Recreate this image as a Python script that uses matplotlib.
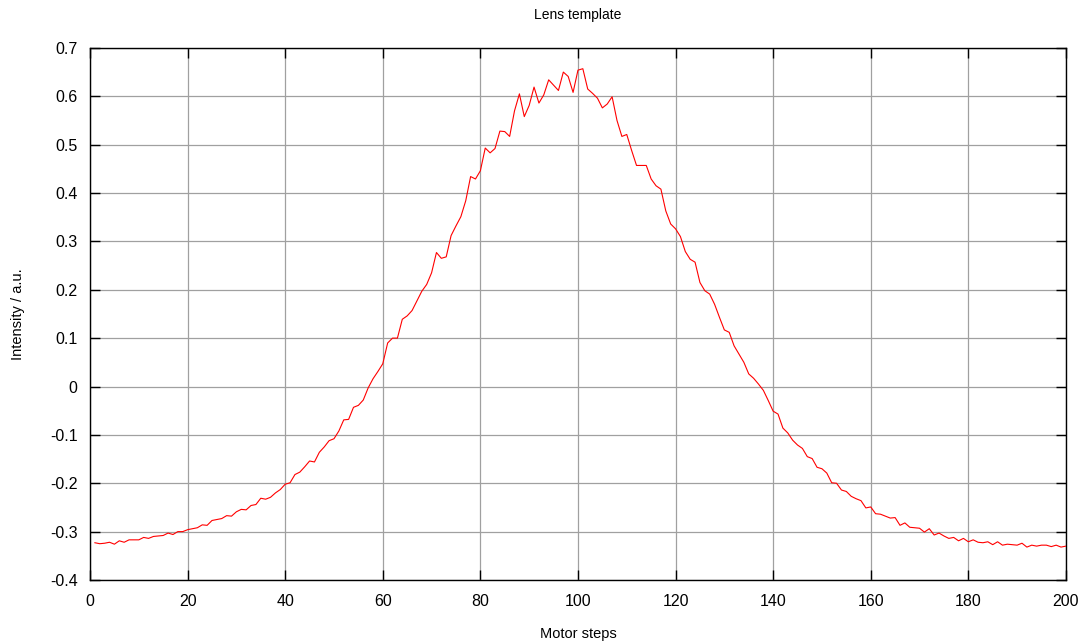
import matplotlib
matplotlib.use("Agg")
import matplotlib.pyplot as plt
import numpy as np

plt.rcParams['font.family'] = ['Liberation Sans', 'DejaVu Sans']

# Motor position (steps) and measured intensity
steps = list(range(1, 201))
intensity = [
    -0.323, -0.325, -0.324, -0.322, -0.326, -0.319, -0.322, -0.317, -0.317, -0.317,
    -0.312, -0.314, -0.310, -0.309, -0.308, -0.303, -0.306, -0.300, -0.300, -0.296,
    -0.294, -0.292, -0.286, -0.287, -0.277, -0.275, -0.273, -0.267, -0.268, -0.259,
    -0.254, -0.255, -0.246, -0.244, -0.231, -0.233, -0.229, -0.220, -0.213, -0.202,
    -0.199, -0.182, -0.177, -0.166, -0.154, -0.156, -0.136, -0.125, -0.112, -0.108,
    -0.092, -0.069, -0.068, -0.043, -0.039, -0.028, -0.003, 0.016, 0.031, 0.047,
    0.090, 0.100, 0.100, 0.139, 0.146, 0.157, 0.177, 0.197, 0.211, 0.235,
    0.277, 0.265, 0.268, 0.312, 0.332, 0.351, 0.384, 0.434, 0.429, 0.446,
    0.493, 0.483, 0.492, 0.528, 0.527, 0.517, 0.570, 0.605, 0.558, 0.581,
    0.619, 0.586, 0.603, 0.634, 0.623, 0.612, 0.650, 0.641, 0.608, 0.654,
    0.657, 0.615, 0.606, 0.596, 0.576, 0.584, 0.599, 0.550, 0.517, 0.521,
    0.488, 0.457, 0.457, 0.457, 0.429, 0.415, 0.408, 0.363, 0.336, 0.326,
    0.310, 0.279, 0.263, 0.257, 0.215, 0.198, 0.191, 0.170, 0.143, 0.117,
    0.112, 0.084, 0.067, 0.050, 0.026, 0.017, 0.005, -0.008, -0.029, -0.051,
    -0.057, -0.086, -0.096, -0.111, -0.121, -0.128, -0.145, -0.149, -0.167, -0.170,
    -0.179, -0.199, -0.200, -0.214, -0.217, -0.227, -0.232, -0.236, -0.251, -0.249,
    -0.263, -0.264, -0.268, -0.272, -0.271, -0.287, -0.282, -0.291, -0.292, -0.293,
    -0.301, -0.294, -0.307, -0.303, -0.309, -0.314, -0.312, -0.319, -0.314, -0.321,
    -0.317, -0.322, -0.323, -0.321, -0.327, -0.321, -0.328, -0.326, -0.327, -0.328,
    -0.324, -0.332, -0.328, -0.330, -0.328, -0.328, -0.331, -0.328, -0.332, -0.330,
]

x_ticks = list(range(0, 201, 20))
y_ticks = [round(v, 1) for v in np.arange(-0.4, 0.71, 0.1)]
y_tick_labels = ["0" if abs(v) < 1e-9 else f"{v:g}" for v in y_ticks]

fig = plt.figure(figsize=(10.91, 6.43), dpi=100)
ax = fig.add_axes([0.0825, 0.098, 0.8945, 0.8275])

ax.plot(steps, intensity, color='#ff0000', linewidth=0.8, zorder=3)

ax.set_xlim(0, 200)
ax.set_ylim(-0.4, 0.7)
ax.set_xticks(x_ticks)
ax.set_yticks(y_ticks)
ax.set_yticklabels(y_tick_labels)

ax.grid(True, color='#a0a0a0', linewidth=0.9, linestyle='-', zorder=1)
ax.set_axisbelow(True)

ax.tick_params(axis='both', direction='in', length=7, width=1, color='black',
               top=True, right=True, labelsize=11.5, colors='black')
ax.tick_params(axis='x', pad=10)
ax.tick_params(axis='y', pad=9)

for sp in ax.spines.values():
    sp.set_linewidth(1.0)
    sp.set_color('black')

ax.set_title("Lens template", fontsize=10, pad=21)
ax.set_xlabel("Motor steps", fontsize=10.5, labelpad=13)
ax.set_ylabel("Intensity / a.u.", fontsize=10.5, labelpad=18)

fig.savefig("out.png", dpi=100)
